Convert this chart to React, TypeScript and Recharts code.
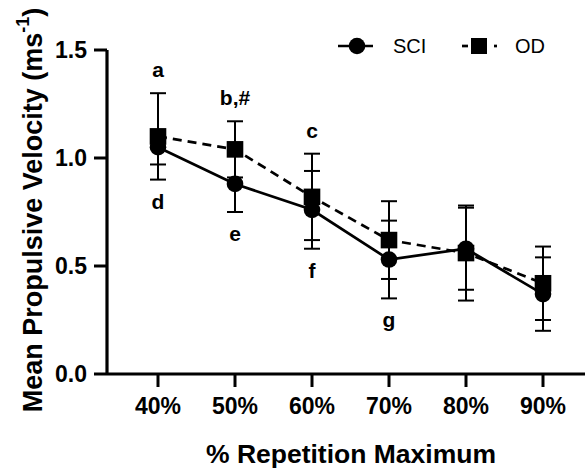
import React from 'react';
import { LineChart, Line, XAxis, YAxis, ErrorBar, ReferenceDot, Legend, Label } from 'recharts';

const categories = ['40%', '50%', '60%', '70%', '80%', '90%'];
const sciMean = [1.05, 0.88, 0.76, 0.53, 0.58, 0.37];
const sciSd = [0.08, 0.13, 0.18, 0.18, 0.19, 0.17];
const odMean = [1.10, 1.04, 0.82, 0.62, 0.56, 0.42];
const odSd = [0.20, 0.13, 0.20, 0.18, 0.22, 0.17];
const notesAbove = ['a', 'b,#', 'c', '', '', ''];
const notesBelow = ['d', 'e', 'f', 'g', '', ''];
const yTicks = [0, 0.5, 1.0, 1.5];

const data = categories.map((c, i) => ({
  cat: c,
  sci: sciMean[i],
  sciSd: sciSd[i],
  od: odMean[i],
  odSd: odSd[i],
}));

const FONT = '"Liberation Sans", Arial, Helvetica, sans-serif';

const CircleDot = (props: any) => {
  const { cx, cy, index } = props;
  if (cx == null || cy == null) return null;
  return <circle key={`c${index}`} cx={cx} cy={cy} r={8.3} fill="#000" />;
};

const SquareDot = (props: any) => {
  const { cx, cy, index } = props;
  if (cx == null || cy == null) return null;
  return <rect key={`s${index}`} x={cx - 8.3} y={cy - 8.3} width={16.6} height={16.6} fill="#000" />;
};

const LegendContent = () => (
  <svg width={240} height={34} style={{ display: 'block', fontFamily: FONT }}>
    <line x1={8} y1={16} x2={43} y2={16} stroke="#000" strokeWidth={2.7} />
    <circle cx={27} cy={16} r={8.3} fill="#000" />
    <text x={63} y={23} fontSize={20} fill="#000">SCI</text>
    <line x1={132} y1={16} x2={138} y2={16} stroke="#000" strokeWidth={2.7} />
    <rect x={141} y={8} width={16} height={16} fill="#000" />
    <line x1={164} y1={16} x2={167} y2={16} stroke="#000" strokeWidth={2.7} />
    <text x={185} y={23} fontSize={20} fill="#000">OD</text>
  </svg>
);

const YTitle = (props: any) => {
  const vb = props.viewBox || { x: 0, y: 50, width: 107, height: 324 };
  const cx = 33;
  const cy = vb.y + vb.height / 2 - 2;
  return (
    <text
      x={cx}
      y={cy}
      transform={`rotate(-90 ${cx} ${cy})`}
      textAnchor="middle"
      dominantBaseline="central"
      fontSize={27}
      fontWeight="bold"
      fill="#000"
      fontFamily={FONT}
    >
      Mean Propulsive Velocity (ms
      <tspan dy={-10} fontSize={18}>-1</tspan>
      <tspan dy={10}>)</tspan>
    </text>
  );
};

const XTitle = (props: any) => {
  const vb = props.viewBox || { x: 107, y: 374, width: 478, height: 94 };
  return (
    <text
      x={vb.x + vb.width / 2 + 5}
      y={vb.y + 89}
      textAnchor="middle"
      fontSize={26.5}
      fontWeight="bold"
      fill="#000"
      fontFamily={FONT}
    >
      % Repetition Maximum
    </text>
  );
};

export default function App() {
  const tickStyle = { fontSize: 23, fontWeight: 'bold', fill: '#000', fontFamily: FONT };
  return (
    <div style={{ position: 'absolute', left: 0, top: 0, width: 585, height: 468, background: '#fff', fontFamily: FONT }}>
      <LineChart
        width={585}
        height={468}
        data={data}
        margin={{ top: 50, right: 0, left: 0, bottom: 0 }}
      >
        <XAxis
          dataKey="cat"
          height={94}
          padding={{ left: 51, right: 42 }}
          tick={tickStyle}
          tickSize={13}
          tickMargin={11}
          axisLine={{ stroke: '#000', strokeWidth: 3.2 }}
          tickLine={{ stroke: '#000', strokeWidth: 3 }}
          interval={0}
        >
          <Label content={<XTitle />} />
        </XAxis>
        <YAxis
          width={107}
          domain={[0, 1.5]}
          ticks={yTicks}
          tickFormatter={(v: number) => v.toFixed(1)}
          tick={tickStyle}
          tickSize={13}
          tickMargin={7}
          axisLine={{ stroke: '#000', strokeWidth: 3.2 }}
          tickLine={{ stroke: '#000', strokeWidth: 3 }}
          allowDataOverflow
        >
          <Label content={<YTitle />} />
        </YAxis>
        <Legend
          layout="vertical"
          align="center"
          verticalAlign="middle"
          content={<LegendContent />}
          wrapperStyle={{ position: 'absolute', left: 330, top: 30, width: 240, height: 34 }}
        />
        <Line
          dataKey="od"
          name="OD"
          stroke="#000"
          strokeWidth={2.7}
          strokeDasharray="9 6"
          dot={<SquareDot />}
          activeDot={false}
          isAnimationActive={false}
        >
          <ErrorBar dataKey="odSd" width={8} strokeWidth={2} stroke="#000" direction="y" />
        </Line>
        <Line
          dataKey="sci"
          name="SCI"
          stroke="#000"
          strokeWidth={2.7}
          dot={<CircleDot />}
          activeDot={false}
          isAnimationActive={false}
        >
          <ErrorBar dataKey="sciSd" width={8} strokeWidth={2} stroke="#000" direction="y" />
        </Line>
        {categories.map((c, i) =>
          notesAbove[i] ? (
            <ReferenceDot
              key={`na${i}`}
              x={c}
              y={Math.max(sciMean[i] + sciSd[i], odMean[i] + odSd[i])}
              r={0}
              fill="none"
              stroke="none"
              label={{ value: notesAbove[i], position: 'top', offset: 16, fontSize: 21, fontWeight: 'bold', fill: '#000', fontFamily: FONT }}
            />
          ) : null
        )}
        {categories.map((c, i) =>
          notesBelow[i] ? (
            <ReferenceDot
              key={`nb${i}`}
              x={c}
              y={Math.min(sciMean[i] - sciSd[i], odMean[i] - odSd[i])}
              r={0}
              fill="none"
              stroke="none"
              label={{ value: notesBelow[i], position: 'bottom', offset: 14, fontSize: 21, fontWeight: 'bold', fill: '#000', fontFamily: FONT }}
            />
          ) : null
        )}
      </LineChart>
    </div>
  );
}
